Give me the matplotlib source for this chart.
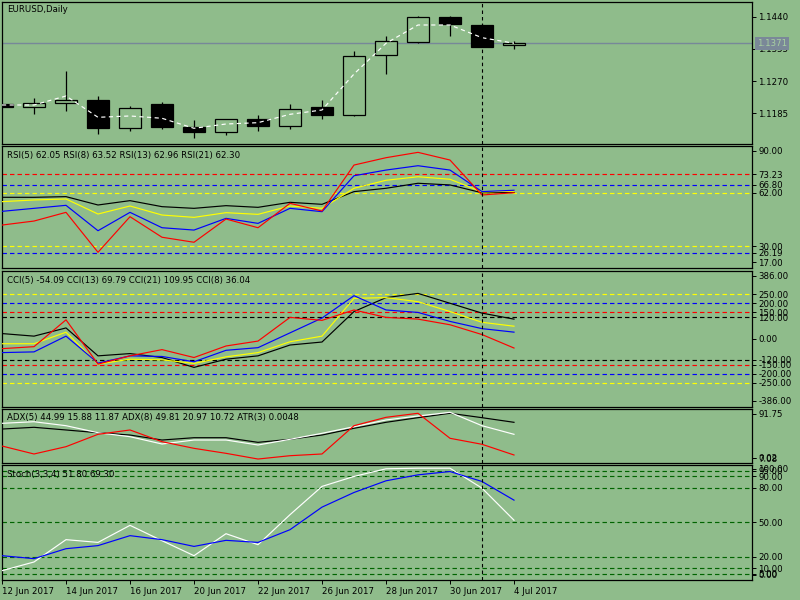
import matplotlib
matplotlib.use('Agg')
import matplotlib.pyplot as plt

plt.rcParams['lines.scale_dashes'] = False
plt.rcParams['font.family'] = ['DejaVu Sans']

BG = '#8FBC8B'
FS = 6.2

# ---------------- data ----------------
dates = ['12 Jun 2017', '13 Jun 2017', '14 Jun 2017', '15 Jun 2017', '16 Jun 2017',
         '19 Jun 2017', '20 Jun 2017', '21 Jun 2017', '22 Jun 2017', '23 Jun 2017',
         '26 Jun 2017', '27 Jun 2017', '28 Jun 2017', '29 Jun 2017', '30 Jun 2017',
         '3 Jul 2017', '4 Jul 2017']

open_ = [1.12095, 1.12024, 1.12114, 1.12201, 1.11454, 1.12087, 1.11480, 1.11364, 1.11699,
         1.11522, 1.12008, 1.11813, 1.13381, 1.13740, 1.14384, 1.14181, 1.13645]
high = [1.12100, 1.12246, 1.12967, 1.12307, 1.12043, 1.12148, 1.11673, 1.11699, 1.11805,
        1.12095, 1.12201, 1.13502, 1.13891, 1.14418, 1.14418, 1.14210, 1.13759]
low = [1.12020, 1.11839, 1.11918, 1.11311, 1.11390, 1.11443, 1.11206, 1.11277, 1.11390,
       1.11443, 1.11707, 1.11787, 1.12895, 1.13714, 1.13898, 1.13590, 1.13555]
close = [1.12024, 1.12114, 1.12201, 1.11470, 1.11982, 1.11496, 1.11348, 1.11699, 1.11522,
         1.11955, 1.11813, 1.13355, 1.13751, 1.14384, 1.14215, 1.13608, 1.13710]
ma = [1.12069, 1.12069, 1.12307, 1.11744, 1.11779, 1.11718, 1.11454, 1.11567, 1.11602,
      1.11823, 1.11937, 1.12887, 1.13698, 1.14181, 1.14181, 1.13846, 1.13698]
last_price = 1.1371
price_ticks = [1.1440, 1.1355, 1.1270, 1.1185]

rsi5 = [42.7, 45.1, 50.3, 26.4, 47.7, 35.4, 32.4, 46.3, 41.1, 55.7, 51.1, 78.6, 83.0, 86.2, 81.6, 60.7, 62.05]
rsi8 = [50.9, 52.7, 54.5, 39.3, 50.3, 41.1, 39.7, 46.7, 43.7, 52.7, 50.7, 72.2, 75.6, 78.2, 75.6, 62.7, 63.52]
rsi13 = [56.7, 57.7, 58.3, 49.3, 54.1, 48.7, 47.3, 50.1, 49.1, 54.1, 52.7, 64.7, 69.5, 71.6, 70.1, 62.5, 62.96]
rsi21 = [59.3, 59.3, 59.7, 54.7, 57.3, 53.7, 52.7, 54.3, 53.3, 56.3, 55.1, 62.7, 64.7, 67.7, 66.7, 62.0, 62.30]
rsi_levels = [73.23, 66.80, 62.00, 30.00, 26.19]
rsi_level_colors = ['red', 'blue', 'yellow', 'yellow', 'blue']

cci5 = [-57.6, -46.4, 106, -145.5, -98.5, -63.2, -108, -42.5, -14.6, 119.8, 103, 162, 119.8, 110, 78, 22.4, -54.09]
cci13 = [-29.7, -29.7, 35.8, -145.5, -117.5, -121, -141.6, -104, -80, -18.5, 13.4, 228, 232, 209, 153, 92, 69.79]
cci21 = [28, 13.4, 60, -98.5, -85.6, -108, -164, -117.5, -98.5, -37, -20, 153, 232, 256, 200, 144, 109.95]
cci8 = [-80, -76, 13.4, -140, -98.5, -102, -132, -67, -52, 32, 116, 243, 162, 148, 97, 56, 36.04]
cci_levels = [250, 200, 150, 120, -120, -150, -200, -250]
cci_level_colors = ['yellow', 'blue', 'red', 'black', 'black', 'red', 'blue', 'yellow']

adx_black = [57.2, 60.1, 55.6, 51.0, 47.1, 38.7, 42.6, 42.6, 34.8, 39.9, 47.1, 58.4, 68.5, 76.3, 83.7, 76.3, 68.5]
adx_white = [66.8, 69.5, 62.8, 51.0, 44.3, 32.0, 38.7, 38.7, 30.3, 39.9, 50.0, 61.1, 72.4, 79.1, 85.3, 62.8, 48.3]
adx_red = [28.6, 15.2, 27.5, 48.3, 55.6, 35.9, 24.7, 16.3, 6.7, 12.3, 15.2, 62.8, 76.9, 83.7, 41.6, 31.5, 13.5]

stoch_main = [7.7, 15.3, 34.8, 32.4, 47.3, 33.9, 20.8, 40.0, 30.4, 56.6, 81.3, 90.0, 96.7, 97.2, 97.2, 79.8, 51.80]
stoch_signal = [20.8, 18.2, 26.9, 29.6, 38.3, 34.8, 28.9, 34.2, 32.4, 43.5, 63.2, 76.0, 86.2, 91.4, 94.3, 85.6, 69.30]
stoch_levels = [95, 90, 80, 50, 20, 10, 5]

x = list(range(len(close)))
cursor_bar = 15

# ---------------- figure ----------------
W, H = 800, 600
fig = plt.figure(figsize=(8, 6), dpi=100, facecolor=BG)
XMAX = 750 / 32.0


def make_ax(top, bottom):
    ax = fig.add_axes([2 / W, 1 - bottom / H, 750 / W, (bottom - top) / H])
    ax.set_facecolor(BG)
    ax.set_xlim(0, XMAX)
    for s in ax.spines.values():
        s.set_color('black')
        s.set_linewidth(0.9)
    ax.tick_params(axis='y', left=False, labelleft=False, right=True, labelright=True,
                   direction='out', length=3.2, width=0.7, labelsize=FS, pad=1.2, colors='black')
    ax.tick_params(axis='x', bottom=False, labelbottom=False)
    ax.axvline(cursor_bar, color='black', lw=0.8, ls=(0, (2.5, 2.2)), zorder=5)
    return ax


def rlabels(ax, vals, labels, shifts):
    y0, y1 = ax.get_ylim()
    hpx = ax.get_position().height * H
    ppu = hpx / (y1 - y0)
    pos = [v - s / ppu for v, s in zip(vals, shifts)]
    ax.set_yticks(pos, labels)


def title(ax, txt, dy=9.5):
    ax.annotate(txt, xy=(0, 1), xycoords='axes fraction', xytext=(3.8, -dy * 0.72),
                textcoords='offset points', ha='left', va='center', fontsize=FS, color='black')


LW = 0.85
DASH = (0, (3.2, 2.2))

# ---- main price panel ----
ax0 = make_ax(2, 144)
ax0.set_ylim(1.11039, 1.14788)
for i in x:
    o, c = open_[i], close[i]
    bear = c < o
    ax0.vlines(i, low[i], high[i], color='black', lw=0.9, zorder=2)
    ax0.bar(i, abs(c - o) if abs(c - o) > 0 else 0.00002, bottom=min(o, c), width=0.69,
            color='black' if bear else BG, edgecolor='black', linewidth=0.9, zorder=3)
ax0.plot(x, ma, color='white', lw=LW, ls=(0, (3, 2.5)), zorder=4)
ax0.axhline(last_price, color='#778899', lw=1.0, zorder=1)
rlabels(ax0, price_ticks, ['%.4f' % v for v in price_ticks], [0] * 4)
title(ax0, 'EURUSD,Daily', dy=7.8)
fig.text(772 / W, 1 - 43.5 / H, '%.4f' % last_price, ha='center', va='center', fontsize=FS,
         color='#A8D0A0', zorder=10,
         bbox=dict(boxstyle='square,pad=0.25', facecolor='#7A8898', edgecolor='none'))

# ---- RSI panel ----
ax1 = make_ax(146, 268)
ax1.set_ylim(17, 90)
for lv, col in zip(rsi_levels, rsi_level_colors):
    ax1.axhline(lv, color=col, lw=LW, ls=DASH, zorder=1)
ax1.plot(x, rsi21, color='black', lw=LW, zorder=3)
ax1.plot(x, rsi13, color='yellow', lw=LW, zorder=3)
ax1.plot(x, rsi8, color='blue', lw=LW, zorder=3)
ax1.plot(x, rsi5, color='red', lw=LW, zorder=3)
rv = [90, 73.23, 66.80, 62.00, 30.00, 26.19, 17]
rlabels(ax1, rv, ['%.2f' % v for v in rv], [5, 0, 0, 0, 0, 0, -6])
title(ax1, 'RSI(5) %.2f RSI(8) %.2f RSI(13) %.2f RSI(21) %.2f' % (rsi5[-1], rsi8[-1], rsi13[-1], rsi21[-1]))

# ---- CCI panel ----
ax2 = make_ax(270.5, 406.5)
ax2.set_ylim(-386, 386)
for lv, col in zip(cci_levels, cci_level_colors):
    ax2.axhline(lv, color=col, lw=LW, ls=DASH, zorder=1)
ax2.plot(x, cci21, color='black', lw=LW, zorder=3)
ax2.plot(x, cci13, color='yellow', lw=LW, zorder=3)
ax2.plot(x, cci8, color='blue', lw=LW, zorder=3)
ax2.plot(x, cci5, color='red', lw=LW, zorder=3)
cv = [386, 250, 200, 150, 120, 0, -120, -150, -200, -250, -386]
rlabels(ax2, cv, ['%.2f' % v for v in cv], [5, 0, 0, 0, 0, 0, 0, 0, 0, 0, -6])
title(ax2, 'CCI(5) %.2f CCI(13) %.2f CCI(21) %.2f CCI(8) %.2f' % (cci5[-1], cci13[-1], cci21[-1], cci8[-1]))

# ---- ADX panel ----
ax3 = make_ax(408.5, 463)
ax3.set_ylim(0.02, 91.75)
ax3.plot(x, adx_black, color='black', lw=LW, zorder=3)
ax3.plot(x, adx_white, color='white', lw=LW, zorder=3)
ax3.plot(x, adx_red, color='red', lw=LW, zorder=3)
rlabels(ax3, [91.75, 0.02, 0.02], ['91.75', '7.08', '0.02'], [5, -5, -5.5])
title(ax3, 'ADX(5) 44.99 15.88 11.87 ADX(8) 49.81 20.97 10.72 ATR(3) 0.0048', dy=9.2)

# ---- Stochastic panel ----
ax4 = make_ax(465, 579.5)
ax4.set_ylim(0, 100)
for lv in stoch_levels:
    ax4.axhline(lv, color='#006400', lw=LW, ls=DASH, zorder=1)
ax4.plot(x, stoch_main, color='white', lw=LW, zorder=3)
ax4.plot(x, stoch_signal, color='blue', lw=LW, zorder=3)
sv = [100, 95, 90, 80, 50, 20, 10, 5, 0]
rlabels(ax4, sv, ['%.2f' % v for v in sv], [4, 0, 0, 0, 0, 0, 0, 0, -5])
title(ax4, 'Stoch(3,3,4) %.2f %.2f' % (stoch_main[-1], stoch_signal[-1]), dy=10)
ax4.tick_params(axis='x', bottom=True, labelbottom=True, direction='out', length=3.2,
                width=0.7, labelsize=FS, pad=2, colors='black')
xt = x[::2]
ax4.set_xticks(xt, [dates[i] for i in xt])
for lab in ax4.get_xticklabels():
    lab.set_horizontalalignment('left')

fig.savefig('out.png', dpi=100, facecolor=BG)
